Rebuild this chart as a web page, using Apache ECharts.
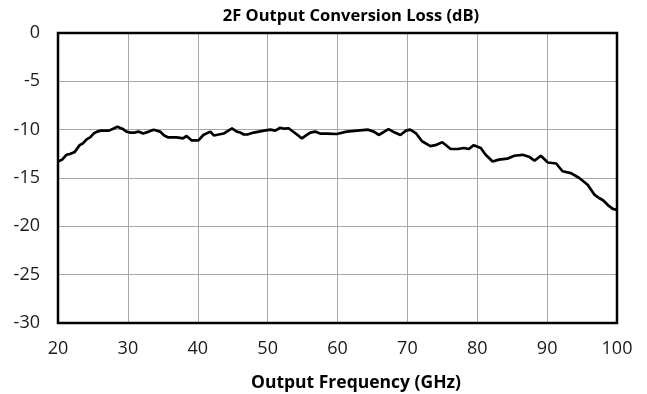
<!DOCTYPE html>
<html><head><meta charset="utf-8">
<script src="https://cdn.jsdelivr.net/npm/echarts@6/dist/echarts.min.js"></script>
<style>html,body{margin:0;padding:0;background:#fff}#c{width:647px;height:394px}</style>
</head><body><div id="c"></div>
<script>
const titleText = "2F Output Conversion Loss (dB)";
const xAxisTitle = "Output Frequency (GHz)";
const freqGHz = [20.0,20.6,21.2,21.8,22.4,23.1,23.6,24.1,24.6,25.1,25.6,26.1,26.7,27.3,27.9,28.5,29.2,29.8,30.3,31.0,31.5,32.2,33.0,33.7,34.6,35.2,35.8,36.4,37.0,37.9,38.4,39.1,40.1,40.8,41.8,42.3,43.0,43.7,44.9,45.6,46.1,46.6,47.1,48.0,49.5,50.4,51.1,51.8,52.4,53.0,54.0,54.9,55.5,56.1,56.8,57.5,58.5,59.9,61.3,62.8,64.4,65.2,65.9,67.3,68.2,69.0,69.8,70.4,71.2,72.1,73.3,74.0,75.0,76.2,77.2,78.1,78.8,79.5,80.5,81.2,82.2,83.1,84.3,85.3,86.5,87.4,88.2,89.1,90.1,91.3,92.2,93.4,94.6,95.8,96.8,97.5,98.0,98.7,99.4,100.0];
const lossDB = [-13.3,-13.1,-12.6,-12.5,-12.3,-11.6,-11.4,-11.0,-10.8,-10.4,-10.2,-10.1,-10.1,-10.1,-9.9,-9.7,-9.9,-10.2,-10.3,-10.3,-10.2,-10.4,-10.2,-10.0,-10.2,-10.6,-10.8,-10.8,-10.8,-10.9,-10.65,-11.1,-11.1,-10.55,-10.2,-10.6,-10.5,-10.4,-9.86,-10.2,-10.3,-10.5,-10.5,-10.3,-10.1,-10.0,-10.1,-9.8,-9.9,-9.85,-10.4,-10.9,-10.6,-10.3,-10.2,-10.4,-10.4,-10.45,-10.2,-10.1,-10.0,-10.2,-10.55,-9.95,-10.3,-10.55,-10.1,-10.0,-10.35,-11.2,-11.7,-11.6,-11.3,-12.0,-12.0,-11.9,-12.0,-11.6,-11.9,-12.6,-13.3,-13.1,-13.0,-12.7,-12.6,-12.8,-13.2,-12.7,-13.4,-13.5,-14.3,-14.5,-15.0,-15.7,-16.75,-17.1,-17.3,-17.8,-18.2,-18.3];

const chart = echarts.init(document.getElementById('c'));
const font = '"Open Sans", Lato, sans-serif';
chart.setOption({
  animation: false,
  grid: {left: 58, right: 30, top: 33, bottom: 71, show: true, borderColor: '#000', borderWidth: 2.5, backgroundColor: 'transparent', z: 5},
  xAxis: {
    type: 'value', min: 20, max: 100, interval: 10,
    axisLine: {show: false}, axisTick: {show: false},
    splitLine: {show: true, showMinLine: false, showMaxLine: false, lineStyle: {color: '#a8a8a8', width: 1}},
    axisLabel: {color: '#1a1a1a', fontSize: 18, fontFamily: font, margin: 17}
  },
  yAxis: {
    type: 'value', min: -30, max: 0, interval: 5,
    axisLine: {show: false}, axisTick: {show: false},
    splitLine: {show: true, showMinLine: false, showMaxLine: false, lineStyle: {color: '#a8a8a8', width: 1}},
    axisLabel: {color: '#1a1a1a', fontSize: 18, fontFamily: font, margin: 18}
  },
  graphic: [
    {type: 'text', x: 351, y: 16, style: {text: titleText, fill: '#000', font: 'bold 16.5px ' + font, textAlign: 'center', textVerticalAlign: 'middle'}},
    {type: 'text', x: 356, y: 383, style: {text: xAxisTitle, fill: '#000', font: 'bold 17.5px ' + font, textAlign: 'center', textVerticalAlign: 'middle'}}
  ],
  series: [{
    type: 'line', data: freqGHz.map((f, i) => [f, lossDB[i]]),
    showSymbol: false, smooth: false, z: 10,
    lineStyle: {color: '#000', width: 2.7}
  }]
});
</script></body></html>
